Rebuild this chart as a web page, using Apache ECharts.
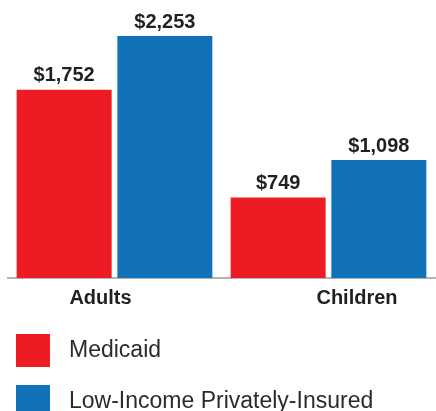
<!DOCTYPE html>
<html>
<head>
<meta charset="utf-8">
<title>Medicaid vs Low-Income Privately-Insured</title>
<script src="https://cdn.jsdelivr.net/npm/echarts@6/dist/echarts.min.js"></script>
<style>
    html, body { margin: 0; padding: 0; background: #fff; }
    #chart { width: 436px; height: 411px; }
</style>
</head>
<body>
<div id="chart"></div>
<script>
var categories = ['Adults', 'Children'];
var seriesNames = ['Medicaid', 'Low-Income Privately-Insured'];
var medicaidValues = [1752, 749];
var privateValues = [2253, 1098];

/**
 * 金额格式化 $1,752
 */
function moneyFmt (params) {
    return '$' + params.value.toLocaleString('en-US');
}

function spendingBarChart (target) {
    var barChart = echarts.init(document.getElementById(target));
    var labelStyle = {
        show: true,
        position: 'top',
        distance: 4,
        fontFamily: 'Liberation Sans',
        fontWeight: 'bold',
        fontSize: 20,
        color: '#231f20',
        formatter: moneyFmt
    };
    var option = {
        animation: false,
        color: ['#ed1c24', '#1172ba'],
        grid: {
            left: 7.5,
            right: 0.5,
            top: 36,
            bottom: 133
        },
        legend: {
            data: seriesNames,
            orient: 'vertical',
            left: 16,
            top: 334,
            height: 120,           // 让第二项越过画布底部，不换列
            padding: 0,
            itemWidth: 34,
            itemHeight: 33,
            itemGap: 18,
            icon: 'rect',
            textStyle: {
                fontFamily: 'Liberation Sans',
                fontSize: 23,
                color: '#2b2b2b',
                padding: [0, 0, 0, 14]
            }
        },
        xAxis: {
            type: 'category',
            data: categories,
            axisTick: { show: false },
            axisLine: {
                lineStyle: { color: '#9a9a9a', width: 1.5 }
            },
            axisLabel: {
                margin: 10,
                formatter: function (value) {
                    return value == 'Adults' ? '{a|' + value + '}' : '{c|' + value + '}';
                },
                rich: {
                    a: {
                        fontFamily: 'Liberation Sans', fontWeight: 'bold', fontSize: 20,
                        color: '#231f20', padding: [0, 28, 0, 0]
                    },
                    c: {
                        fontFamily: 'Liberation Sans', fontWeight: 'bold', fontSize: 20,
                        color: '#231f20', padding: [0, 0, 0, 57]
                    }
                }
            }
        },
        yAxis: {
            type: 'value',
            min: 0,
            max: 'dataMax',
            show: false
        },
        series: [
            {
                name: seriesNames[0],
                type: 'bar',
                data: medicaidValues,
                barWidth: 95,
                barGap: '6%',
                label: labelStyle
            },
            {
                name: seriesNames[1],
                type: 'bar',
                data: privateValues,
                barWidth: 95,
                barGap: '6%',
                label: labelStyle
            }
        ]
    };
    barChart.setOption(option);
}

spendingBarChart('chart');
</script>
</body>
</html>
